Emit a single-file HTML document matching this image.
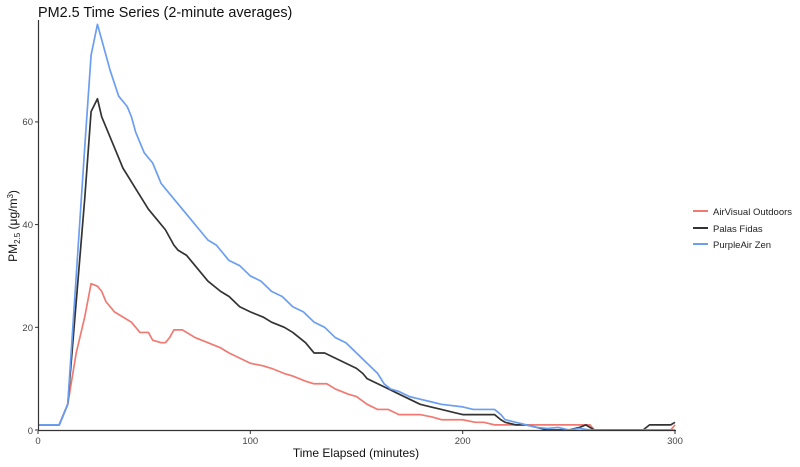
<!DOCTYPE html>
<html><head><style>body{margin:0;background:#fff}svg{font-family:"Liberation Sans",sans-serif}</style></head><body>
<svg width="800" height="462" viewBox="0 0 800 462">
<rect width="800" height="462" fill="#fff"/>
<text x="38" y="17" font-size="14.4" fill="#111">PM2.5 Time Series (2-minute averages)</text>
<g transform="translate(38,430) scale(2.1233,-5.135)" fill="none" stroke-width="1.7" stroke-linejoin="round">
<polyline vector-effect="non-scaling-stroke" stroke="#f07a72" points="0,1 10,1 14,5 18,15 22,22 25,28.5 28,28 30,27 32,25 34,24 36,23 40,22 44,21 48,19 52,19 54,17.5 58,17 60,17 62,18 64,19.5 68,19.5 74,18 80,17 86,16 90,15 95,14 100,13 106,12.5 110,12 116,11 120,10.5 126,9.5 130,9 136,9 140,8 146,7 150,6.5 155,5 160,4 165,4 170,3 180,3 186,2.5 190,2 196,2 200,2 206,1.5 210,1.5 215,1 220,1 225,1 230,1 245,1 260,1 262,0 298,0 300,1"/>
<polyline vector-effect="non-scaling-stroke" stroke="#333" points="0,1 10,1 14,5 18,25 22,45 25,62 28,64.5 30,61 34,57 38,53 40,51 46,47 52,43 56,41 60,39 64,36 66,35 70,34 74,32 80,29 86,27 90,26 95,24 100,23 106,22 110,21 116,20 120,19 126,17 130,15 135,15 140,14 145,13 150,12 153,11 155,10 160,9 165,8 170,7 175,6 180,5 185,4.5 190,4 195,3.5 200,3 210,3 215,3 218,2 220,1.5 225,1 230,1 235,0.5 240,0 250,0 255,0.5 258,1 262,0 285,0 288,1 298,1 300,1.5"/>
<polyline vector-effect="non-scaling-stroke" stroke="#6c9ef0" points="0,1 10,1 14,5 18,30 22,55 25,73 28,79 30,76 34,70 38,65 42,63 44,61 46,58 50,54 54,52 56,50 58,48 60,47 64,45 66,44 70,42 72,41 76,39 80,37 84,36 88,34 90,33 95,32 100,30 105,29 110,27 115,26 120,24 125,23 130,21 135,20 140,18 145,17 150,15 155,13 160,11 163,9 166,8 170,7.5 175,6.5 180,6 185,5.5 190,5 200,4.5 205,4 210,4 215,4 218,3 220,2 225,1.5 230,1 235,0.5 240,0.3 245,0.5 250,0 255,0.3 260,0 300,0"/>
</g>
<line x1="38.5" y1="20" x2="38.5" y2="431" stroke="#333" stroke-width="1.2"/>
<line x1="38" y1="430.5" x2="676" y2="430.5" stroke="#333" stroke-width="1.2"/>
<g stroke="#333"><line x1="35" x2="38" y1="430" y2="430"/><line x1="35" x2="38" y1="327.3" y2="327.3"/><line x1="35" x2="38" y1="224.6" y2="224.6"/><line x1="35" x2="38" y1="121.9" y2="121.9"/>
<line x1="38" x2="38" y1="431" y2="434"/><line x1="250.3" x2="250.3" y1="431" y2="434"/><line x1="462.7" x2="462.7" y1="431" y2="434"/><line x1="675" x2="675" y1="431" y2="434"/></g>
<g font-size="9.5" fill="#444" text-anchor="end"><text x="33" y="434">0</text><text x="33" y="331">20</text><text x="33" y="228">40</text><text x="33" y="125">60</text></g>
<g font-size="9.5" fill="#444" text-anchor="middle"><text x="38" y="444">0</text><text x="250.3" y="444">100</text><text x="462.7" y="444">200</text><text x="675" y="444">300</text></g>
<text x="356" y="457" font-size="12" text-anchor="middle" fill="#111">Time Elapsed (minutes)</text>
<text transform="translate(17,226) rotate(-90)" font-size="12" text-anchor="middle" fill="#111">PM<tspan font-size="8" dy="3">2.5</tspan><tspan dy="-3"> (μg/m</tspan><tspan font-size="8" dy="-4">3</tspan><tspan dy="4">)</tspan></text>
<g font-size="9.5" fill="#222">
<line x1="693" x2="708" y1="211" y2="211" stroke="#f07a72" stroke-width="2"/><text x="713" y="215">AirVisual Outdoors</text>
<line x1="693" x2="708" y1="228" y2="228" stroke="#333" stroke-width="2"/><text x="713" y="232">Palas Fidas</text>
<line x1="693" x2="708" y1="244" y2="244" stroke="#6c9ef0" stroke-width="2"/><text x="713" y="248">PurpleAir Zen</text>
</g>
</svg>
</body></html>
